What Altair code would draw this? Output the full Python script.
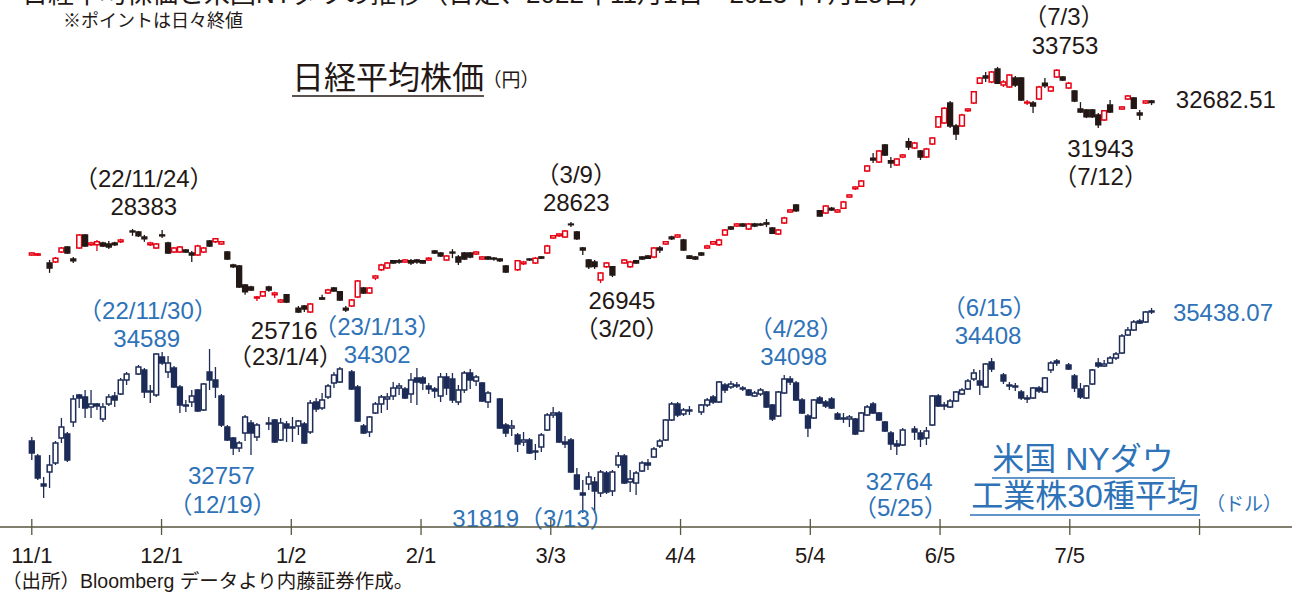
import altair as alt
import pandas as pd

# ---------------- data: trading-day slots 0..189 (2022/11/1 .. 2023/7/25) ----------------
# Nikkei 225 (yen), None = Japanese market holiday
nikkei_open = [27610,27610,None,27350,27380,27710,27880,27480,27850,28280,
 27950,27950,28010,27980,28010,28050,None,28410,28380,28210,
 27950,27850,28280,28010,27710,27710,27780,27680,27610,27710,
 28080,28050,27980,27710,27280,27250,26620,26550,26190,26250,
 26550,26290,26050,26290,None,25850,25920,25720,None,26190,
 26350,26520,26390,25850,25920,26220,26520,26350,26850,27120,
 27180,27420,27420,27380,27420,27450,27420,27450,27750,27680,
 27450,27710,27550,27680,27680,27650,27480,27550,27510,27480,
 27250,None,27120,27320,27480,27350,27550,27680,28180,28250,
 28210,28640,28380,27850,27450,27380,26780,27220,27220,None,
 27350,27220,27420,27550,27580,27550,27850,27980,28210,28210,
 28110,27580,27550,27680,27850,27980,27950,28280,28540,28580,
 28640,28480,28640,28640,28680,28510,28310,28680,29040,29270,
 None,None,None,29080,29010,29170,29040,29170,29540,29810,
 29900,30400,30830,30700,31270,30740,30600,30870,31370,31170,
 31070,30870,31300,31860,32000,32660,31900,31900,32400,32660,
 33320,33560,33360,33790,33260,33190,33490,33490,32660,32660,
 32790,33320,33060,33520,33520,33160,33060,32460,32430,32430,
 32260,32100,32590,None,32460,32790,32830,32330,32660,32730]
nikkei_high = [27710,27680,None,27450,27550,27880,27910,27550,28310,28310,
 28050,28110,28050,28080,28050,28150,None,28480,28410,28280,
 28050,28010,28440,28050,27880,27910,27810,27750,27950,27880,
 28110,28180,28080,27750,27320,27280,26650,26590,26250,26420,
 26590,26390,26150,26320,None,25920,25950,26020,None,26290,
 26490,26550,26420,25920,26150,26780,26550,26550,26950,27320,
 27380,27450,27480,27480,27480,27480,27450,27550,27780,27710,
 27610,27810,27610,27710,27710,27750,27580,27580,27550,27510,
 27280,None,27450,27420,27510,27550,27580,27950,28280,28340,
 28440,28710,28410,27880,27480,27450,27050,27380,27250,None,
 27480,27420,27450,27580,27610,27880,27910,28080,28250,28310,
 28150,27610,27580,27710,27950,28080,28150,28480,28580,28680,
 28680,28680,28680,28680,28810,28540,28480,28880,29140,29310,
 None,None,None,29110,29270,29210,29140,29410,29640,29900,
 30100,30600,31000,31100,31300,30870,30830,30970,31500,31370,
 31100,31170,31530,32230,32530,32730,31960,32300,32490,33060,
 33520,33690,33720,33860,33420,33620,33560,33520,32760,32730,
 33230,33490,33230,33780,33560,33360,33090,32690,32460,32460,
 32330,32430,32760,None,32560,32930,32860,32430,32760,32760]
nikkei_low = [27580,27580,None,27020,27350,27680,27650,27350,27810,27880,
 27910,27750,27880,27810,27910,28010,None,28250,28210,28050,
 27910,27810,28180,27650,27680,27680,27680,27380,27580,27680,
 27880,28010,27950,27450,27180,26520,26290,26420,26090,26220,
 26390,26190,26020,26020,None,25690,25720,25690,None,26120,
 26320,26390,26090,25720,25890,26190,26320,26320,26780,27080,
 27150,27320,27320,27350,27280,27320,27320,27420,27650,27550,
 27420,27510,27280,27450,27510,27610,27450,27450,27420,27380,
 27020,None,27080,27280,27420,27320,27480,27650,28150,28210,
 28180,28540,28110,27610,27150,27150,26680,27180,26880,None,
 27320,27180,27320,27450,27480,27510,27680,27950,28110,28180,
 27750,27480,27450,27580,27810,27950,27910,28250,28440,28540,
 28540,28440,28540,28580,28540,28310,28280,28640,29010,29040,
 None,None,None,28880,28980,29080,29010,29140,29510,29770,
 29870,30370,30670,30670,30900,30500,30570,30830,31100,31130,
 30770,30830,31270,31830,31960,31830,31430,31860,32360,32630,
 33290,33360,33320,33290,33190,33160,33190,32730,32590,32330,
 32760,33160,33030,33490,33390,33130,32690,32330,32160,32160,
 31830,32060,32330,None,32430,32760,32460,32100,32630,32590]
nikkei_close = [27680,27650,None,27180,27510,27850,27680,27420,28280,27910,
 28010,28050,27910,27880,27950,28110,None,28380,28250,28150,
 28010,27980,28250,27680,27850,27880,27710,27610,27910,27850,
 27910,28150,28050,27480,27220,26550,26390,26450,26220,26390,
 26450,26350,26120,26050,None,25720,25820,25990,None,26150,
 26450,26420,26120,25790,26120,26750,26350,26520,26920,27280,
 27350,27350,27380,27450,27350,27380,27350,27510,27680,27580,
 27580,27680,27380,27480,27550,27710,27550,27480,27480,27420,
 27050,None,27420,27380,27450,27510,27510,27910,28250,28310,
 28410,28620,28150,27780,27220,27230,27020,27350,26950,None,
 27450,27380,27350,27480,27510,27850,27780,28050,28150,28280,
 27780,27510,27480,27610,27910,28050,28110,28440,28480,28640,
 28580,28640,28580,28610,28640,28340,28440,28840,29110,29080,
 None,None,None,28910,29240,29110,29110,29370,29610,29870,
 30070,30570,30770,31070,30930,30670,30800,30930,31200,31330,
 30870,31130,31500,32200,32490,31900,31630,32260,32460,33030,
 33490,33490,33690,33320,33360,33590,33260,32760,32690,32560,
 33190,33230,33190,33750,33420,33320,32730,32360,32200,32200,
 31940,32400,32360,None,32530,32890,32490,32260,32730,32680]

# NY Dow (USD), None = US market holiday
dow_open = [32860,32560,32000,32240,32420,32920,33000,33240,33780,33740,
 33540,33600,33300,33600,33760,33800,34080,None,34200,34280,
 33860,33780,34540,34240,34320,33940,33580,33640,33880,33480,
 34240,34080,33760,33140,32920,32720,33020,33220,32940,None,
 33220,33280,32880,33200,33140,33160,33200,33040,33640,33520,
 33740,34020,34040,None,34240,33940,33160,33040,33420,33600,
 33700,33760,33920,33900,33800,34120,34120,33960,33900,33760,
 34140,34100,33640,33880,34220,34060,34020,33640,None,33700,
 33180,33120,32980,32840,32880,32660,32740,33080,33380,33420,
 32840,32880,32180,31820,32000,32040,31820,32220,31860,32380,
 32560,32040,32020,32260,32420,32540,32760,32880,33280,33600,
 33400,33480,None,33440,33580,33740,33640,33980,33940,33980,
 33920,33880,33760,33800,33840,33580,33360,33820,34100,34020,
 33680,33360,33320,33720,33640,33700,33400,33320,33300,33300,
 33060,33380,33600,33420,33240,33020,32800,32780,None,33100,
 33020,32920,33180,33760,33580,33540,33660,33800,33900,34100,
 34060,33940,34440,None,34180,33980,33960,33840,33720,33720,
 33920,33840,34280,34460,None,34380,34160,33900,33720,34000,
 34420,34360,34420,34520,34620,34980,35080,35260,35240,35460]
dow_high = [32940,32600,32140,32580,32860,33320,33040,33780,33800,33880,
 33880,33620,33620,33800,33840,34120,34240,None,34380,34320,
 33980,34620,34640,34560,34360,33980,33680,33880,33900,34020,
 34700,34340,33800,33180,32940,32860,33380,33280,33220,None,
 33340,33300,33320,33260,33340,33280,33240,33680,33720,33820,
 34000,34240,34340,None,34280,33980,33200,33360,33640,33780,
 33820,34040,34020,33940,34220,34320,34160,34020,33940,34220,
 34220,34220,33980,34260,34300,34180,34040,33860,None,33720,
 33220,33280,33020,33040,32920,32800,33020,33420,33540,33460,
 32960,32920,32320,32080,32240,32140,32280,32260,32280,32640,
 32600,32280,32260,32460,32500,32740,32900,33300,33640,33640,
 33520,33560,None,33600,33720,33780,34060,34020,34060,34040,
 33960,33900,33860,33920,33860,33600,33860,34180,34160,34060,
 33720,33400,33700,33760,33680,33740,33440,33420,33380,33320,
 33440,33580,33640,33440,33260,33060,32880,33120,None,33160,
 33080,33140,33780,33800,33640,33700,33860,33920,34100,34300,
 34280,34420,34520,None,34220,34040,34020,33880,33780,33940,
 33960,34140,34460,34500,None,34420,34200,34020,33980,34300,
 34520,34480,34560,34640,35000,35140,35280,35300,35460,35520]
dow_low = [32480,32080,31720,31920,32380,32820,32440,33140,33520,33320,
 33320,33480,33240,33560,33540,33780,33980,None,34180,33720,
 33620,33740,34380,34120,33920,33420,33440,33540,33440,33460,
 33880,33720,33140,32860,32580,32640,32860,32580,32860,None,
 33080,32820,32860,32840,32840,32980,32800,33000,33440,33480,
 33700,33920,34020,None,33880,33240,33000,32940,33400,33420,
 33480,33680,33780,33700,33620,33580,33880,33800,33720,33640,
 33780,33620,33580,33820,33900,33960,33640,33520,None,33100,
 32940,32960,32640,32760,32600,32480,32640,33060,33320,32820,
 32720,32220,31880,31420,31880,31420,31740,31800,31760,32320,
 32000,31840,31780,32240,32280,32520,32720,32860,33260,33340,
 33360,33380,None,33380,33540,33600,33620,33820,33900,33920,
 33860,33760,33740,33760,33520,33260,33340,33800,33980,33660,
 33400,32940,33300,33600,33520,33500,33280,33220,33140,32980,
 33040,33360,33400,33260,33040,32680,32580,32760,None,32880,
 32740,32780,33160,33540,33480,33520,33640,33780,33880,34060,
 33780,33920,34240,None,34000,33880,33860,33680,33620,33700,
 33820,33820,34220,34360,None,34280,33840,33700,33700,33980,
 34320,34340,34400,34480,34600,34960,35060,35200,35220,35400]
dow_close = [32620,32120,31960,32380,32820,33140,32480,33700,33720,33520,
 33600,33560,33540,33740,33680,34080,34200,None,34340,33840,
 33840,34600,34420,34420,33940,33580,33560,33760,33460,34000,
 34080,33940,33180,32880,32720,32820,33340,33020,33180,None,
 33200,32840,33220,33120,33120,33260,32820,33620,33500,33680,
 33960,34180,34300,None,33900,33260,33020,33340,33600,33740,
 33740,33920,33960,33720,34080,34040,34020,33900,33860,34140,
 33920,33680,33880,34220,34080,34140,33660,33820,None,33120,
 33020,33160,32800,32880,32620,32640,32980,33380,33420,32840,
 32800,32240,31900,31780,32140,31860,32240,31840,32240,32560,
 32020,32100,32220,32420,32380,32700,32860,33280,33600,33380,
 33480,33460,None,33580,33680,33640,34040,33880,34000,33960,
 33900,33780,33820,33880,33540,33300,33840,34100,34040,33680,
 33420,33120,33680,33620,33560,33520,33300,33300,33340,33000,
 33420,33540,33420,33280,33060,32800,32760,33080,None,33040,
 32900,33060,33760,33560,33560,33660,33840,33880,34060,34220,
 33980,34400,34300,None,34060,33960,33940,33720,33700,33920,
 33860,34120,34420,34420,None,34300,33920,33740,33960,34280,
 34360,34400,34520,34600,34960,35080,35240,35220,35440,35440]

# x-axis ticks (slot positions) and labels
tick_slots = [0, 21.9, 43.8, 65.7, 87.6, 109.5, 131.4, 153.3, 175.2, 197.1]
tick_labels = ["11/1", "12/1", "1/2", "2/1", "3/3", "4/4", "5/4", "6/5", "7/5", ""]

# annotations (close values at highs/lows)
nk_note_text = ["（22/11/24）", "28383", "（3/9）", "28623", "（7/3）", "33753",
                "25716", "（23/1/4）", "26945", "（3/20）", "31943", "（7/12）"]
nk_note_slot = [18.9, 18.9, 91.9, 91.9, 174.2, 174.4,
                42.6, 42.8, 99.6, 99.6, 180.4, 180.4]
nk_note_value = [30104, 29174, 30237, 29307, 35482, 34520,
                 25060, 24180, 26054, 25124, 31100, 30170]
nk_last_text, nk_last_slot, nk_last_value = "32682.51", 193.1, 32727

dw_note_text = ["（22/11/30）", "34589", "32757", "（12/19）", "（23/1/13）", "34302",
                "31819（3/13）", "（4/28）", "34098", "32764", "（5/25）", "（6/15）", "34408"]
dw_note_slot = [19.6, 19.4, 32.0, 32.2, 58.3, 58.3,
                84.6, 129.0, 128.6, 146.4, 146.6, 161.6, 161.4]
dw_note_value = [35440, 34880, 32140, 31560, 35120, 34560,
                 31280, 35080, 34520, 32020, 31500, 35500, 34940]
dw_last_text, dw_last_slot, dw_last_value = "35438.07", 192.6, 35400

# ---------------- styling ----------------
W, H = 1292, 593
FONT = "Liberation Sans, Noto Sans CJK JP"
BLACK = "#231815"
RED = "#e60012"
NAVY = "#1c2b57"
BLUE = "#2e72b8"
AXIS = "#57563f"

xs = alt.Scale(domain=[-4.522, 211.86], nice=False, zero=False)
nk_ys = alt.Scale(domain=[16392, 36080], nice=False, zero=False)
dw_ys = alt.Scale(domain=[29820, 41680], nice=False, zero=False)


def candle_frame(o, h, l, c, up_fill, up_stroke, down_color):
    rows = []
    for s in range(len(o)):
        if o[s] is None:
            continue
        up = c[s] > o[s]
        rows.append({"slot": s, "open": o[s], "high": h[s], "low": l[s], "close": c[s],
                     "fill": up_fill if up else down_color,
                     "stroke": up_stroke if up else down_color})
    return pd.DataFrame(rows)


def candles(df, ys, size, sw):
    base = alt.Chart(df)
    wick = base.mark_rule(strokeWidth=1.3).encode(
        x=alt.X("slot:Q", scale=xs, axis=None),
        y=alt.Y("low:Q", scale=ys, axis=None),
        y2="high:Q",
        stroke=alt.Stroke("stroke:N", scale=None),
    )
    body = base.mark_bar(size=size, strokeWidth=sw).encode(
        x=alt.X("slot:Q", scale=xs, axis=None),
        y=alt.Y("open:Q", scale=ys, axis=None),
        y2="close:Q",
        fill=alt.Fill("fill:N", scale=None),
        stroke=alt.Stroke("stroke:N", scale=None),
    )
    return [wick, body]


def notes(texts, slots, values, ys, color, align="center", size=24):
    df = pd.DataFrame({"t": texts, "slot": slots, "v": values})
    return alt.Chart(df).mark_text(font=FONT, fontSize=size, color=color, align=align,
                                   baseline="middle").encode(
        x=alt.X("slot:Q", scale=xs, axis=None),
        y=alt.Y("v:Q", scale=ys, axis=None),
        text="t:N",
    )


def label(text, x, y, size, color, align="center", baseline="middle"):
    return alt.Chart(alt.Data(values=[{"t": text}])).mark_text(
        font=FONT, fontSize=size, color=color, align=align, baseline=baseline
    ).encode(x=alt.value(x), y=alt.value(y), text="t:N")


def hline(x1, x2, y, color, width=1.5):
    return alt.Chart(alt.Data(values=[{}])).mark_rule(color=color, strokeWidth=width).encode(
        x=alt.value(x1), x2=alt.value(x2), y=alt.value(y))


nk_df = candle_frame(nikkei_open, nikkei_high, nikkei_low, nikkei_close, "#ffffff", RED, BLACK)
dw_df = candle_frame(dow_open, dow_high, dow_low, dow_close, "#ffffff", NAVY, NAVY)

nikkei = alt.layer(
    *candles(nk_df, nk_ys, 4.8, 1.5),
    notes(nk_note_text, nk_note_slot, nk_note_value, nk_ys, BLACK),
    notes([nk_last_text], [nk_last_slot], [nk_last_value], nk_ys, BLACK, align="left"),
)
dow = alt.layer(
    *candles(dw_df, dw_ys, 4.8, 1.5),
    notes(dw_note_text, dw_note_slot, dw_note_value, dw_ys, BLUE),
    notes([dw_last_text], [dw_last_slot], [dw_last_value], dw_ys, BLUE, align="left"),
)

tick_df = pd.DataFrame({"slot": tick_slots, "lab": tick_labels})
axis_line = hline(0, W, 527, AXIS, 1.3)
axis_ticks = alt.Chart(tick_df).mark_rule(color=AXIS, strokeWidth=1.3).encode(
    x=alt.X("slot:Q", scale=xs, axis=None), y=alt.value(519), y2=alt.value(535))
axis_labels = alt.Chart(tick_df).mark_text(font=FONT, fontSize=22, color=BLACK, baseline="middle").encode(
    x=alt.X("slot:Q", scale=xs, axis=None), y=alt.value(556), text="lab:N")

statics = [
    label("日経平均株価と米国NYダウの推移（日足、2022年11月1日～2023年7月25日）", 22, 3, 26, BLACK,
          align="left", baseline="alphabetic"),
    label("※ポイントは日々終値", 63, 22, 18, BLACK, align="left"),
    label("日経平均株価", 388, 79, 32, BLACK),
    hline(292, 484, 96, BLACK, 1.5),
    label("（円）", 511, 81, 19, BLACK),
    label("米国 NYダウ", 1083, 460, 32, BLUE),
    hline(992, 1175, 478, BLUE, 1.5),
    label("工業株30種平均", 1085, 497, 32, BLUE),
    hline(970, 1200, 515, BLUE, 1.5),
    label("（ドル）", 1244, 505, 19, BLUE),
    label("（出所）Bloomberg データより内藤証券作成。", 2, 582, 19.5, BLACK, align="left"),
]

chart = alt.layer(
    nikkei, dow, axis_line, axis_ticks, axis_labels, *statics
).resolve_scale(y="independent").properties(
    width=W, height=H, padding=0, autosize=alt.AutoSizeParams(type="none"),
    background="#ffffff",
).configure_view(stroke=None)

chart.save("out.html", embed_options={"renderer": "svg", "actions": False})
